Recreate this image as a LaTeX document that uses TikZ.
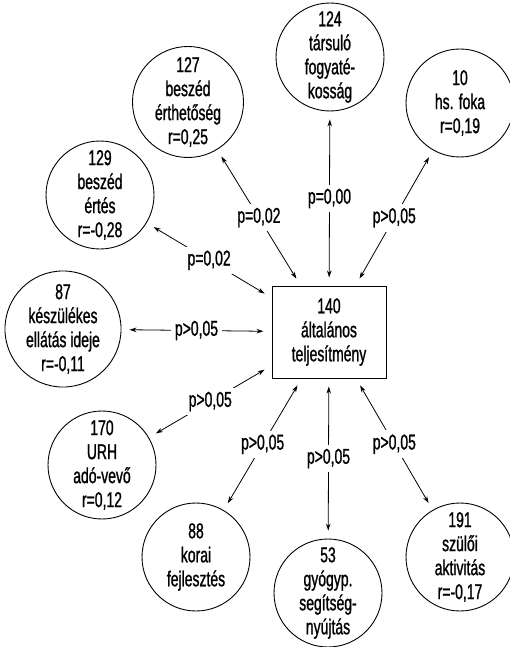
\documentclass[tikz,border=0pt]{standalone}
\usepackage{fontspec}
\setmainfont[FakeStretch=0.65, FakeBold=1]{Liberation Sans}
\usetikzlibrary{arrows.meta}

\begin{document}
\begin{tikzpicture}[x=1pt, y=-1pt, font=\fontsize{21.5}{24}\selectfont,
        kor/.style={draw, circle, minimum size=108pt, inner sep=0pt, align=center, line width=0.9pt},
        doboz/.style={draw, minimum width=114pt, minimum height=92pt, align=center, line width=1pt},
        nyil/.style={{Stealth[length=7pt,width=4.5pt]}-{Stealth[length=7pt,width=4.5pt]}, line width=0.8pt, shorten <=8pt, shorten >=8pt},
        cimke/.style={fill=white, inner sep=4pt}]
        \useasboundingbox (0,0) rectangle (510,647);
        \node[doboz] (alt) at (329,332) {140\\általános\\teljesítmény};
        \node[kor] (k127) at (188,102) {127\\beszéd\\érthetőség\\r=0,25};
        \node[kor] (k124) at (330,57) {124\\társuló\\fogyaté-\\kosság};
        \node[kor] (k10) at (460,103) {10\\hs. foka\\r=0,19};
        \node[kor] (k129) at (100,195) {129\\beszéd\\értés\\r=-0,28};
        \node[kor] (k87) at (63,329) {87\\készülékes\\ellátás ideje\\r=-0,11};
        \node[kor] (k170) at (102,465) {170\\URH\\adó-vevő\\r=0,12};
        \node[kor] (k88) at (196,557) {88\\korai\\fejlesztés};
        \node[kor] (k53) at (328,593) {53\\gyógyp.\\segítség-\\nyújtás};
        \node[kor] (k191) at (460,557) {191\\szülői\\aktivitás\\r=-0,17};
        \draw[nyil] (alt) -- node[cimke] {p=0,02} (k127);
        \draw[nyil] (alt) -- node[cimke] {p=0,00} (k124);
        \draw[nyil] (alt) -- node[cimke] {p>0,05} (k10);
        \draw[nyil] (alt) -- node[cimke] {p=0,02} (k129);
        \draw[nyil] (alt) -- node[cimke] {p>0,05} (k87);
        \draw[nyil] (alt) -- node[cimke] {p>0,05} (k170);
        \draw[nyil] (alt) -- node[cimke] {p>0,05} (k88);
        \draw[nyil] (alt) -- node[cimke] {p>0,05} (k53);
        \draw[nyil] (alt) -- node[cimke] {p>0,05} (k191);
\end{tikzpicture}
\end{document}
